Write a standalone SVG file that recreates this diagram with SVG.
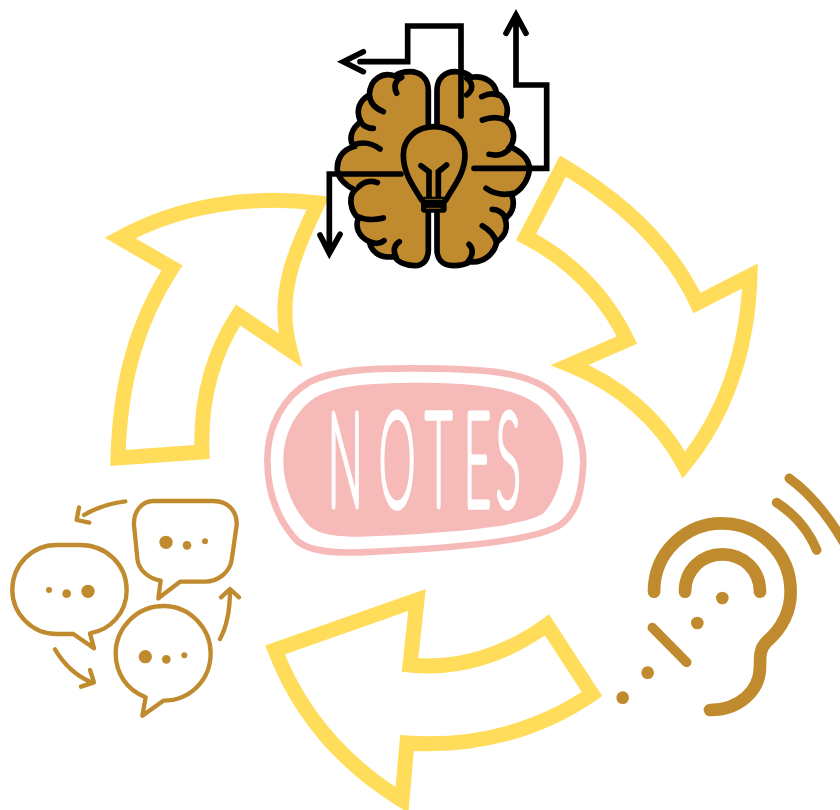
<svg xmlns="http://www.w3.org/2000/svg" width="840" height="810" viewBox="0 0 840 810">
<style>
.arrow{fill:#fff;stroke:#FFDD5A;stroke-width:15;stroke-linejoin:miter;stroke-miterlimit:6}
.k{fill:none;stroke:#000;stroke-width:17;stroke-linecap:round;stroke-linejoin:miter}
.b{fill:#C08B2E;stroke:#000;stroke-width:17;stroke-linecap:round}
.g{fill:none;stroke:#C08B2E;stroke-linecap:round;stroke-linejoin:round}
.d{fill:#C08B2E}
</style>
<rect width="840" height="810" fill="#fff"/>
<g id="connectors">
<path class="arrow" d="M118 458 C120 380 138 320 172 268 L120 238 C180 205 250 195 318 203 C295 250 275 295 290 350 L238 315 C212 355 200 400 202 452 Z"/>
<path class="arrow" d="M563 166 C620 200 670 245 697 303 L750 276 C748 350 725 415 684 465 C660 420 620 385 570 365 L627 340 C605 295 570 260 526 237 Z"/>
<path class="arrow" d="M592 694 L547 625 C505 655 460 670 410 665 L417 600 L275 650 C300 715 345 765 402 800 L407 743 C475 748 540 730 592 694 Z"/>
</g>
<g id="notes" transform="translate(260 360) scale(.33333)">
<path d="M450 25 C650 25 800 30 880 100 C940 160 970 230 970 310 C965 400 950 460 900 495 C830 540 600 565 300 577 C200 580 130 570 100 530 C50 470 22 390 22 300 C22 200 70 110 150 65 C220 30 330 25 450 25 Z" fill="#fff" stroke="#F6BBB8" stroke-width="20"/>
<path d="M450 68 C620 68 760 75 840 140 C890 190 910 250 910 310 C905 370 880 430 850 460 C800 495 600 520 300 530 C230 530 180 525 150 500 C100 450 70 380 70 300 C70 220 110 140 180 105 C250 72 350 70 450 68 Z" fill="#F6BBB8"/>
</g>
<g transform="translate(0 505) scale(.36 1)">
<text id="notes-label" x="911 1053 1182 1289 1378" y="0" font-family="Lato,'Liberation Sans',sans-serif" font-weight="100" font-size="128" fill="#fff" stroke="#fff" stroke-width="9" stroke-linejoin="round">NOTES</text>
</g>
<g id="brain" transform="translate(320 0) scale(.33333)">
<path class="b" d="M325 375 V270 C325 235 300 215 270 215 C250 215 235 220 225 228 C190 215 150 235 148 285 C120 300 105 330 122 365 C95 385 85 415 100 440 C65 450 50 480 52 510 C55 535 75 555 105 570 C85 590 90 630 115 655 C105 680 115 710 148 725 C155 760 185 775 225 770 C235 790 265 797 285 797 C312 797 325 775 325 750 V640"/>
<path class="b" d="M351 375 V270 C351 235 375 215 405 215 C425 215 445 222 455 232 C490 225 525 245 530 280 C560 295 570 330 555 360 C580 375 590 415 570 440 C605 455 630 480 628 510 C625 540 605 570 575 585 C585 610 580 640 555 655 C565 685 555 710 530 725 C525 760 490 790 450 785 C435 795 415 797 400 797 C365 797 351 775 351 750 V640"/>
<path class="k" d="M230 280 C220 260 225 240 245 232 M190 335 C165 325 150 310 148 285 M160 385 C140 385 125 375 120 360 M180 447 C150 425 125 425 100 435 M117 560 C130 545 155 540 172 548 M190 654 C165 660 135 660 115 650 M192 722 C180 732 165 732 148 725 M238 725 C220 735 220 755 228 770 M440 235 C460 250 460 270 440 285 M485 290 C505 280 520 280 532 285 M487 360 C515 350 535 350 555 360 M507 463 C530 468 550 465 565 450 M498 565 C525 585 555 585 578 580 M517 628 C535 628 550 640 558 655 M487 677 C510 690 525 710 530 728 M447 733 C460 745 460 765 445 783"/>
<path class="b" d="M305 600 C280 560 250 520 250 465 C250 415 290 380 342 380 C395 380 435 415 435 465 C435 520 400 560 378 600"/>
<path class="k" d="M303 497 L327 515 V590 M380 495 L355 515 V590"/>
<rect x="303" y="590" width="77" height="48" rx="10" fill="#000"/>
<path d="M315 598 H368 M318 625 H362" stroke="#C08B2E" stroke-width="2" fill="none"/>
<path class="k" d="M120 185 H263 V78 H423 V348 M130 155 L70 185 L130 215 M588 45 V255 H680 V505 H462 M558 100 L588 45 L618 100 M243 522 H28 V760 M0 705 L28 760 L60 703"/>
</g>
<g id="talk" transform="translate(0 490) scale(.33333)">
<path class="g" stroke-width="13" d="M460 33 H640 C685 33 712 65 710 105 L695 210 C690 245 655 275 615 275 H540 L475 325 L482 272 C445 265 415 240 412 205 L402 105 C400 65 425 33 460 33 Z"/>
<path class="g" stroke-width="13" d="M170 165 H240 C320 165 380 225 380 300 C380 370 330 420 270 430 L282 475 L220 432 H170 C95 432 37 370 37 300 C37 225 95 165 170 165 Z"/>
<path class="g" stroke-width="13" d="M490 348 C570 348 632 415 632 490 C632 570 570 632 490 632 L427 677 L437 622 C380 600 347 550 347 490 C347 415 410 348 490 348 Z"/>
<circle class="d" cx="498" cy="157" r="20"/><circle class="d" cx="561" cy="166" r="13"/><circle class="d" cx="615" cy="154" r="9"/>
<circle class="d" cx="147" cy="300" r="9"/><circle class="d" cx="200" cy="311" r="13"/><circle class="d" cx="264" cy="304" r="20"/>
<circle class="d" cx="436" cy="500" r="20"/><circle class="d" cx="499" cy="508" r="13"/><circle class="d" cx="553" cy="496" r="9"/>
<path class="g" stroke-width="13" d="M376 34 C330 40 285 55 252 75 M237 52 L230 90 L268 98 M165 478 C190 520 225 555 270 575 M270 540 L282 577 L243 590 M660 447 C680 410 690 370 690 300 M663 322 L690 297 L717 322"/>
</g>
<g id="ear" transform="translate(600 470) scale(.33333)">
<path class="g" stroke-width="38" d="M162 365 C162 245 260 160 365 160 C480 160 572 250 572 365 C572 430 540 480 500 515 C480 535 480 555 480 590 C480 660 420 720 330 720"/>
<path class="g" stroke-width="38" d="M255 365 C255 300 305 253 367 253 C430 253 480 300 480 365"/>
<path class="g" stroke-width="29" d="M157 473 L260 577 M530 98 C580 130 625 180 650 240 M568 25 C630 70 680 130 730 215"/>
<circle class="d" cx="367" cy="384" r="19"/><circle class="d" cx="292" cy="459" r="19"/><circle class="d" cx="143" cy="608" r="19"/><circle class="d" cx="68" cy="683" r="19"/>
</g>
</svg>
